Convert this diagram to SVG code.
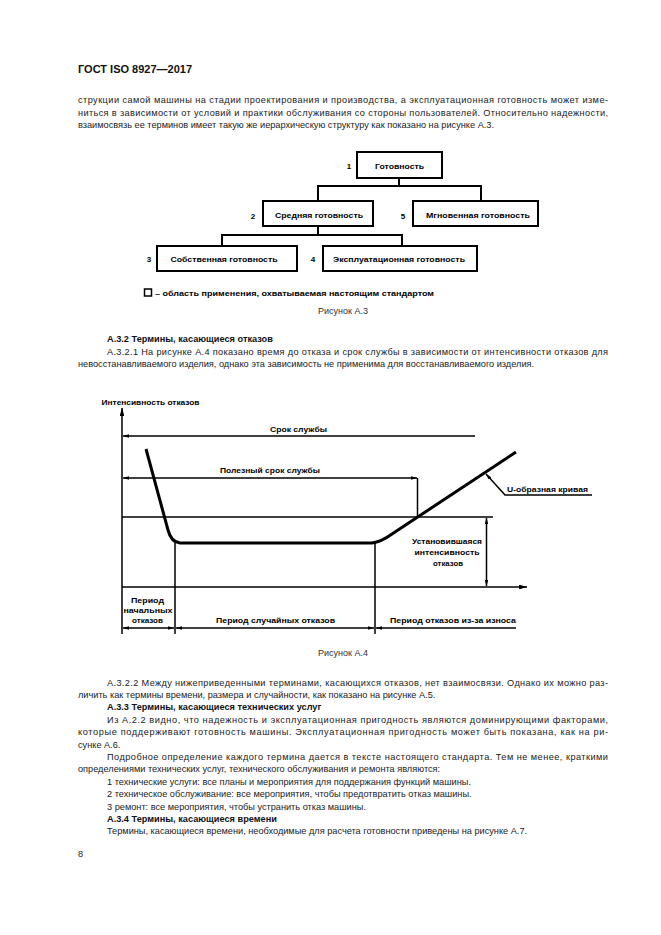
<svg xmlns="http://www.w3.org/2000/svg" width="661" height="935" viewBox="0 0 661 935">
<defs>
<style>
.body{font-family:"Liberation Sans",Arial,sans-serif;font-size:9.2px;fill:#222}
.bh{font-family:"Liberation Sans",Arial,sans-serif;font-size:9.2px;font-weight:bold;fill:#111}
.hdr{font-family:"Liberation Sans",Arial,sans-serif;font-size:11px;font-weight:bold;fill:#111}
.ft{font-family:"Liberation Sans",Arial,sans-serif;font-size:8px;font-weight:bold;fill:#000}
.cap{font-family:"Liberation Sans",Arial,sans-serif;font-size:9px;fill:#333}
.box{fill:#fff;stroke:#000;stroke-width:2}
.con{fill:none;stroke:#000;stroke-width:2}
.ln{fill:none;stroke:#000;stroke-width:1.5}
.crv{fill:none;stroke:#000;stroke-width:3;stroke-linejoin:round}
</style>
<marker id="ar" viewBox="0 0 10 6" refX="10" refY="3" markerWidth="6" markerHeight="3.6" markerUnits="userSpaceOnUse" orient="auto-start-reverse"><path d="M0,0 L10,3 L0,6 z" fill="#000"/></marker>
<marker id="ax" viewBox="0 0 10 6" refX="10" refY="3" markerWidth="8" markerHeight="4.8" markerUnits="userSpaceOnUse" orient="auto-start-reverse"><path d="M0,0 L10,3 L0,6 z" fill="#000"/></marker>
</defs>
<rect width="661" height="935" fill="#fff"/>

<!-- header & paragraph -->
<text class="hdr" x="78" y="73" textLength="114" lengthAdjust="spacingAndGlyphs">ГОСТ ISO 8927—2017</text>
<text class="body" x="78" y="103" textLength="530" lengthAdjust="spacing">струкции самой машины на стадии проектирования и производства, а эксплуатационная готовность может изме-</text>
<text class="body" x="78" y="115.5" textLength="530" lengthAdjust="spacing">ниться в зависимости от условий и практики обслуживания со стороны пользователей. Относительно надежности,</text>
<text class="body" x="78" y="128">взаимосвязь ее терминов имеет такую же иерархическую структуру как показано на рисунке А.3.</text>

<!-- Figure A.3 -->
<g id="connectors-a3">
<polyline class="con" points="399,178 399,186"/>
<polyline class="con" points="318,201 318,186 481,186 481,201"/>
<polyline class="con" points="318,226 318,235"/>
<polyline class="con" points="222,246 222,235 402,235 402,246"/>
</g>
<g id="node1">
<rect class="box" x="357" y="152" width="85" height="26"/>
<text class="ft" x="349" y="169" text-anchor="middle">1</text>
<text class="ft" x="399.5" y="168.5" text-anchor="middle" textLength="49" lengthAdjust="spacingAndGlyphs">Готовность</text>
</g>
<g id="node2">
<rect class="box" x="263" y="201" width="110" height="25"/>
<text class="ft" x="253" y="219" text-anchor="middle">2</text>
<text class="ft" x="319" y="218" text-anchor="middle" textLength="88" lengthAdjust="spacingAndGlyphs">Средняя готовность</text>
</g>
<g id="node5">
<rect class="box" x="413" y="201" width="125" height="25"/>
<text class="ft" x="403" y="219" text-anchor="middle">5</text>
<text class="ft" x="478" y="218" text-anchor="middle" textLength="104" lengthAdjust="spacingAndGlyphs">Мгновенная готовность</text>
</g>
<g id="node3">
<rect class="box" x="157" y="246" width="140" height="25"/>
<text class="ft" x="149" y="262" text-anchor="middle">3</text>
<text class="ft" x="224" y="262" text-anchor="middle" textLength="107" lengthAdjust="spacingAndGlyphs">Собственная готовность</text>
</g>
<g id="node4">
<rect class="box" x="323" y="246" width="154" height="25"/>
<text class="ft" x="313" y="262" text-anchor="middle">4</text>
<text class="ft" x="399" y="262" text-anchor="middle" textLength="132" lengthAdjust="spacingAndGlyphs">Эксплуатационная готовность</text>
</g>
<g id="legend">
<rect x="144.5" y="289" width="7" height="7" fill="#fff" stroke="#000" stroke-width="1.5"/>
<text class="ft" x="155" y="295.5" textLength="279" lengthAdjust="spacingAndGlyphs">– область применения, охватываемая настоящим стандартом</text>
</g>
<text class="cap" x="343" y="314" text-anchor="middle">Рисунок А.3</text>

<!-- A.3.2 -->
<text class="bh" x="107" y="342">А.3.2 Термины, касающиеся отказов</text>
<text class="body" x="107" y="354.5" textLength="501" lengthAdjust="spacing">А.3.2.1 На рисунке А.4 показано время до отказа и срок службы в зависимости от интенсивности отказов для</text>
<text class="body" x="78" y="367">невосстанавливаемого изделия, однако эта зависимость не применима для восстанавливаемого изделия.</text>

<!-- Figure A.4 -->
<g id="figure-a4">
<text class="ft" x="101.5" y="405" textLength="98" lengthAdjust="spacingAndGlyphs">Интенсивность отказов</text>
<line class="ln" x1="122" y1="634" x2="122" y2="408" marker-end="url(#ax)"/>
<line class="ln" x1="122" y1="587" x2="527" y2="587" marker-end="url(#ax)"/>
<line class="ln" x1="123" y1="436" x2="475" y2="436" marker-start="url(#ar)"/>
<text class="ft" x="298.5" y="431.5" text-anchor="middle" textLength="57" lengthAdjust="spacingAndGlyphs">Срок службы</text>
<line class="ln" x1="123" y1="478" x2="417" y2="478" marker-start="url(#ar)" marker-end="url(#ar)"/>
<text class="ft" x="270" y="473" text-anchor="middle" textLength="100" lengthAdjust="spacingAndGlyphs">Полезный срок службы</text>
<line class="ln" x1="417.5" y1="478" x2="417.5" y2="517"/>
<line class="ln" x1="122" y1="517" x2="493" y2="517"/>
<line class="ln" x1="175" y1="543" x2="175" y2="634"/>
<line class="ln" x1="375" y1="543" x2="375" y2="634"/>
<path class="crv" d="M146,449 L168,530 Q171,542 180,543 L372,543 Q381,542 392,534 L516,452"/>
<polyline class="ln" points="592,495 505,495 486,474" marker-end="url(#ar)"/>
<text class="ft" x="507" y="491.5" textLength="81" lengthAdjust="spacingAndGlyphs">U-образная кривая</text>
<line class="ln" x1="486.5" y1="518" x2="486.5" y2="586" marker-start="url(#ar)" marker-end="url(#ar)"/>
<text class="ft" x="447" y="544" text-anchor="middle" textLength="70" lengthAdjust="spacingAndGlyphs">Установившаяся</text>
<text class="ft" x="447" y="555" text-anchor="middle" textLength="65" lengthAdjust="spacingAndGlyphs">интенсивность</text>
<text class="ft" x="448" y="566" text-anchor="middle" textLength="30" lengthAdjust="spacingAndGlyphs">отказов</text>
<line class="ln" x1="123" y1="628" x2="174" y2="628" marker-start="url(#ar)" marker-end="url(#ar)"/>
<line class="ln" x1="176" y1="628" x2="374" y2="628" marker-start="url(#ar)" marker-end="url(#ar)"/>
<line class="ln" x1="376" y1="628" x2="516" y2="628" marker-start="url(#ar)"/>
<text class="ft" x="147.5" y="603" text-anchor="middle" textLength="33" lengthAdjust="spacingAndGlyphs">Период</text>
<text class="ft" x="148" y="613" text-anchor="middle" textLength="49" lengthAdjust="spacingAndGlyphs">начальных</text>
<text class="ft" x="147.5" y="623" text-anchor="middle" textLength="31" lengthAdjust="spacingAndGlyphs">отказов</text>
<text class="ft" x="275.5" y="623" text-anchor="middle" textLength="119" lengthAdjust="spacingAndGlyphs">Период случайных отказов</text>
<text class="ft" x="453" y="623" text-anchor="middle" textLength="126" lengthAdjust="spacingAndGlyphs">Период отказов из-за износа</text>
</g>
<text class="cap" x="343" y="656" text-anchor="middle">Рисунок А.4</text>

<!-- lower text -->
<text class="body" x="107" y="685.5" textLength="501" lengthAdjust="spacing">А.3.2.2 Между нижеприведенными терминами, касающихся отказов, нет взаимосвязи. Однако их можно раз-</text>
<text class="body" x="78" y="698">личить как термины времени, размера и случайности, как показано на рисунке А.5.</text>
<text class="bh" x="107" y="710.3">А.3.3 Термины, касающиеся технических услуг</text>
<text class="body" x="107" y="722.7" textLength="501" lengthAdjust="spacing">Из А.2.2 видно, что надежность и эксплуатационная пригодность являются доминирующими факторами,</text>
<text class="body" x="78" y="735.1" textLength="530" lengthAdjust="spacing">которые поддерживают готовность машины. Эксплуатационная пригодность может быть показана, как на ри-</text>
<text class="body" x="78" y="747.5">сунке А.6.</text>
<text class="body" x="107" y="759.9" textLength="501" lengthAdjust="spacing">Подробное определение каждого термина дается в тексте настоящего стандарта. Тем не менее, краткими</text>
<text class="body" x="78" y="772.3">определениями технических услуг, технического обслуживания и ремонта являются:</text>
<text class="body" x="107" y="784.7">1 технические услуги: все планы и мероприятия для поддержания функций машины.</text>
<text class="body" x="107" y="797.1">2 техническое обслуживание: все мероприятия, чтобы предотвратить отказ машины.</text>
<text class="body" x="107" y="809.5">3 ремонт: все мероприятия, чтобы устранить отказ машины.</text>
<text class="bh" x="107" y="821.9">А.3.4 Термины, касающиеся времени</text>
<text class="body" x="107" y="834.3">Термины, касающиеся времени, необходимые для расчета готовности приведены на рисунке А.7.</text>
<text class="body" x="78" y="856.5">8</text>
</svg>
